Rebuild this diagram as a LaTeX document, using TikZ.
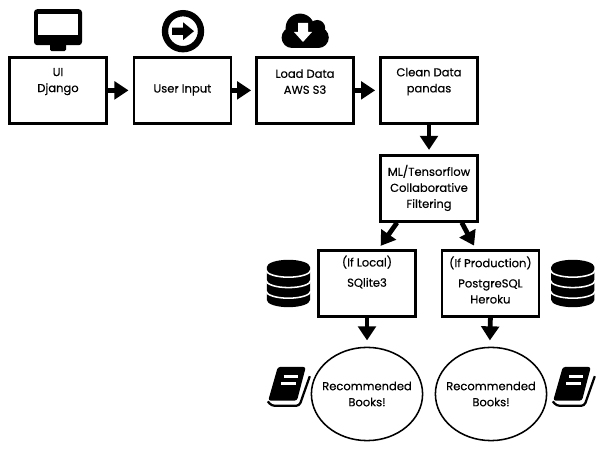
\documentclass[tikz,border=0pt]{standalone}
\usepackage{fontspec}
\setmainfont{Poppins}[FakeBold=0.4]
\usetikzlibrary{arrows.meta, shapes.geometric}

\tikzset{
    stepbox/.style={draw=black, line width=1.8pt, minimum width=2.42cm, minimum height=1.65cm, inner sep=0pt},
    bookoval/.style={draw=black, line width=1.1pt, ellipse, minimum width=2.78cm, minimum height=2.33cm, inner sep=0pt},
    boxtext/.style={align=center, font=\fontsize{8.2}{11.4}\selectfont, inner sep=0pt},
    flow/.style={line width=3.4pt, -{Triangle[length=10pt, width=12.5pt]}, shorten >=3pt}
}

\begin{document}
\begin{tikzpicture}
    \useasboundingbox (0, 0) rectangle (15.225, 11.3);

    % boxes
    \node[stepbox] (ui) at (1.45, 9.04) {};
    \node[stepbox] (input) at (4.56, 9.04) {};
    \node[stepbox] (load) at (7.625, 9.04) {};
    \node[stepbox] (clean) at (10.725, 9.04) {};
    \node[stepbox] (ml) at (10.725, 6.59) {};
    \node[stepbox] (local) at (9.175, 4.21) {};
    \node[stepbox] (prod) at (12.26, 4.21) {};
    \node[bookoval] (bookl) at (9.175, 1.45) {};
    \node[bookoval] (bookr) at (12.275, 1.45) {};

    % texts
    \node[boxtext] (uitext) at (1.45, 9.26) {UI\\Django};
    \node[boxtext] (inputtext) at (4.56, 9.05) {User Input};
    \node[boxtext] (loadtext) at (7.625, 9.26) {Load Data\\AWS S3};
    \node[boxtext] (cleantext) at (10.725, 9.26) {Clean Data\\pandas};
    \node[boxtext] (mltext) at (10.725, 6.6) {ML/Tensorflow\\Collaborative\\Filtering};
    \node[boxtext] (localtext) at (9.175, 4.5) {(If Local)\\[3pt]SQlite3};
    \node[boxtext] (prodtext) at (12.26, 4.3) {(If Production)\\[3pt]PostgreSQL\\Heroku};
    \node[boxtext] (booklt) at (9.175, 1.45) {Recommended\\Books!};
    \node[boxtext] (bookrt) at (12.275, 1.45) {Recommended\\Books!};

    % arrows
    \draw[flow] (ui.east) -- (input.west);
    \draw[flow] (input.east) -- (load.west);
    \draw[flow] (load.east) -- (clean.west);
    \draw[flow] (clean.south) -- (ml.north);
    \draw[flow] ([xshift=-0.8cm]ml.south) -- ([xshift=0.28cm]local.north);
    \draw[flow] ([xshift=0.82cm]ml.south) -- ([xshift=-0.36cm]prod.north);
    \draw[flow] (local.south) -- ([yshift=0.05cm]bookl.north);
    \draw[flow] (prod.south) -- ([xshift=-0.03cm, yshift=0.05cm]bookr.north);

    % monitor
    \fill[black, rounded corners=0.08cm] (0.85, 10.17) rectangle (2.05, 11.07);
    \fill[white] (0.95, 10.42) rectangle (1.95, 10.95);
    \fill[black, rounded corners=0.04cm] (1.25, 10.02) rectangle (1.65, 10.25);

    % circled arrow
    \fill[black, even odd rule] (4.575, 10.52) circle (0.53cm) (4.575, 10.52) circle (0.37cm);
    \fill[black] (4.3, 10.43) -- (4.58, 10.43) -- (4.58, 10.3) -- (4.85, 10.52) -- (4.58, 10.74) -- (4.58, 10.61) -- (4.3, 10.61) -- cycle;

    % cloud
    \fill[black] (7.5, 10.6) circle (0.36cm);
    \fill[black] (7.93, 10.6) circle (0.2cm);
    \fill[black] (7.3, 10.1) -- (7.96, 10.1) arc (-90:90:0.26cm) -- (7.3, 10.62) arc (90:270:0.26cm) -- cycle;
    \fill[white] (7.45, 10.73) rectangle (7.7, 10.5) (7.35, 10.5) -- (7.8, 10.5) -- (7.575, 10.25) -- cycle;

    % databases
    \foreach \dbx in {7.21, 14.32} {
        \fill[black] (\dbx-0.54, 3.8) arc (180:360:0.54cm and 0.18cm) -- (\dbx+0.54, 4.625) arc (0:180:0.54cm and 0.18cm) -- cycle;
        \foreach \dby in {4.55, 4.29, 4.025} {
            \draw[white, line width=1.1pt] (\dbx-0.56, \dby) arc (180:360:0.56cm and 0.18cm);
        }
    }

    % books
    \foreach \bkx in {7.225, 14.35} {
        \begin{scope}[shift={(\bkx, 1.625)}]
            \fill[black, rounded corners=0.06cm] (-0.28, 0.5) -- (0.42, 0.5) -- (0.2, -0.34) -- (-0.52, -0.34) -- cycle;
            \draw[black, line width=1.6pt, rounded corners=0.08cm] (-0.53, -0.36) -- (-0.44, -0.47) -- (0.26, -0.47) -- (0.52, 0.27);
            \draw[white, line width=1.6pt] (-0.13, 0.26) -- (0.23, 0.26);
            \draw[white, line width=1.6pt] (-0.19, 0.09) -- (0.17, 0.09);
        \end{scope}
    }
\end{tikzpicture}
\end{document}
